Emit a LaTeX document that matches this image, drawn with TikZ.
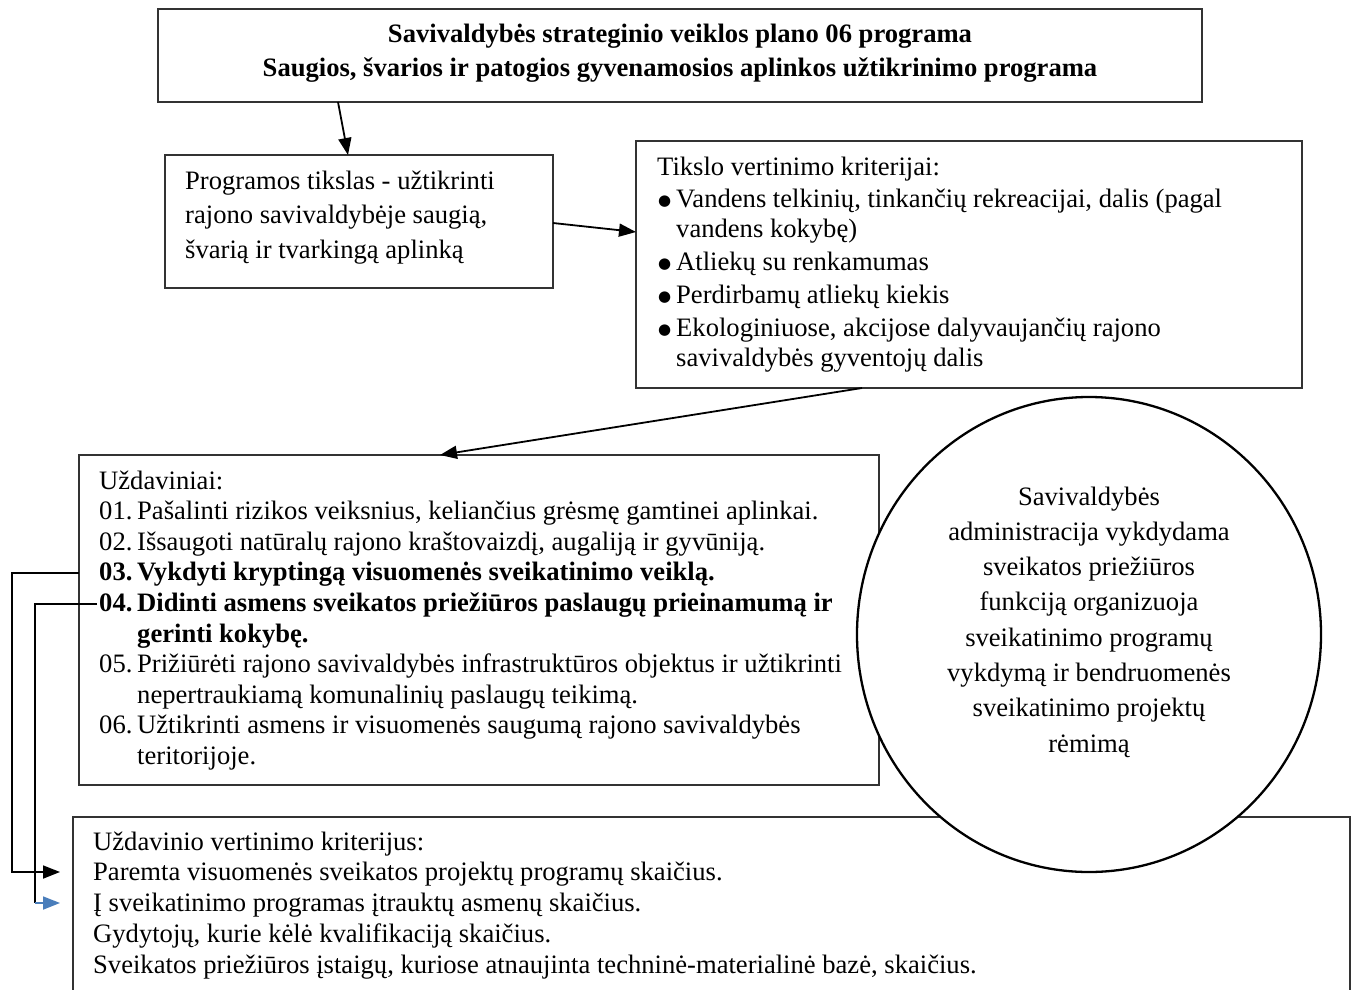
\documentclass[tikz,border=0pt]{standalone}
\usepackage{fontspec}
\setmainfont{Liberation Serif}
\newfontfamily\dejavu{DejaVu Sans}
\usetikzlibrary{arrows.meta,shapes.geometric}
\definecolor{arrowblue}{HTML}{4A7EBB}
\newcommand{\tb}[3]{\parbox[t]{#1}{\fontsize{26.6}{#2}\selectfont #3}}
\newcommand{\itm}[1]{\hangindent=38pt\hangafter=1\noindent\makebox[38pt][l]{#1}}
\newcommand{\bul}{\hangindent=19pt\hangafter=1\noindent\makebox[19pt][l]{\hspace{1pt}\raisebox{2pt}{\dejavu\fontsize{15}{15}\selectfont ●}}}
\begin{document}
\begin{tikzpicture}[x=1pt,y=-1pt,
  box/.style={draw=black!80, line width=1.3pt, inner sep=0pt},
  txt/.style={inner sep=0pt, anchor=base west},
  conn/.style={line width=1.8pt, -{Triangle[length=17pt,width=13pt]}},
  line/.style={line width=1.8pt}]
\useasboundingbox (0,0) rectangle (1355,990);
% boxes
\node[box, minimum width=1044pt, minimum height=93pt] (prog) at (680,55.5) {};
\node[box, minimum width=388pt, minimum height=133pt] (goal) at (359,221.5) {};
\node[box, minimum width=666pt, minimum height=247pt] (crit) at (969,264.5) {};
\node[box, minimum width=800pt, minimum height=330pt] (tasks) at (479,620) {};
\node[box, minimum width=1277pt, minimum height=183pt] (eval) at (711.5,908.5) {};
\node[draw=black, line width=2.3pt, fill=white, ellipse, minimum width=464pt, minimum height=475pt, inner sep=0pt] (adm) at (1089,634.5) {};
% texts
\node[inner sep=0pt, anchor=base] (progtxt) at (680,43) {\tb{1040pt}{34pt}{\centering\bfseries Savivaldybės strateginio veiklos plano 06 programa\\Saugios, švarios ir patogios gyvenamosios aplinkos užtikrinimo programa\par}};
\node[txt] (goaltxt) at (185,189) {\tb{500pt}{34.5pt}{\raggedright Programos tikslas - užtikrinti\\rajono savivaldybėje saugią,\\švarią ir tvarkingą aplinką\par}};
\node[txt] (crittxt) at (657,175) {\tb{700pt}{30pt}{\setlength{\parskip}{2.8pt}\raggedright
Tikslo vertinimo kriterijai:\par
\bul Vandens telkinių, tinkančių rekreacijai, dalis (pagal\newline vandens kokybę)\par
\bul Atliekų su renkamumas\par
\bul Perdirbamų atliekų kiekis\par
\bul Ekologiniuose, akcijose dalyvaujančių rajono\newline savivaldybės gyventojų dalis\par}};
\node[txt] (taskstxt) at (99,489) {\tb{900pt}{30.6pt}{\raggedright
\noindent Uždaviniai:\par
\itm{01.}Pašalinti rizikos veiksnius, keliančius grėsmę gamtinei aplinkai.\par
\itm{02.}Išsaugoti natūralų rajono kraštovaizdį, augaliją ir gyvūniją.\par
{\bfseries\itm{03.}Vykdyti kryptingą visuomenės sveikatinimo veiklą.\par}
{\bfseries\itm{04.}Didinti asmens sveikatos priežiūros paslaugų prieinamumą ir\newline gerinti kokybę.\par}
\itm{05.}Prižiūrėti rajono savivaldybės infrastruktūros objektus ir užtikrinti\newline nepertraukiamą komunalinių paslaugų teikimą.\par
\itm{06.}Užtikrinti asmens ir visuomenės saugumą rajono savivaldybės\newline teritorijoje.\par}};
\node[inner sep=0pt, anchor=base] (admtxt) at (1089,505) {\tb{420pt}{35.3pt}{\centering Savivaldybės\\administracija vykdydama\\sveikatos priežiūros\\funkciją organizuoja\\sveikatinimo programų\\vykdymą ir bendruomenės\\sveikatinimo projektų\\rėmimą\par}};
\node[txt] (evaltxt) at (93,850) {\tb{1240pt}{30.75pt}{\raggedright
Uždavinio vertinimo kriterijus:\\
Paremta visuomenės sveikatos projektų programų skaičius.\\
Į sveikatinimo programas įtrauktų asmenų skaičius.\\
Gydytojų, kurie kėlė kvalifikaciją skaičius.\\
Sveikatos priežiūros įstaigų, kuriose atnaujinta techninė-materialinė bazė, skaičius.\par}};
% connector points
\coordinate (p1) at (338,102);
\coordinate (p2) at (348,155);
\coordinate (g1) at (553,223);
\coordinate (g2) at (636,232);
\coordinate (c1) at (862,388);
\coordinate (c2) at (440,455);
\coordinate (t3) at (79,573);
\coordinate (t3b) at (12,573);
\coordinate (t3c) at (12,872);
\coordinate (e1) at (60,872);
\coordinate (t4) at (97,604);
\coordinate (t4b) at (35,604);
\coordinate (t4c) at (35,903);
\coordinate (e2) at (60,903);
% connectors
\draw[conn] (p1) -- (p2);
\draw[conn] (g1) -- (g2);
\draw[conn] (c1) -- (c2);
\draw[conn] (t3) -- (t3b) -- (t3c) -- (e1);
\draw[line] (t4) -- (t4b) -- (t4c);
\draw[conn, draw=arrowblue, fill=arrowblue] (t4c) -- (e2);
\end{tikzpicture}
\end{document}
